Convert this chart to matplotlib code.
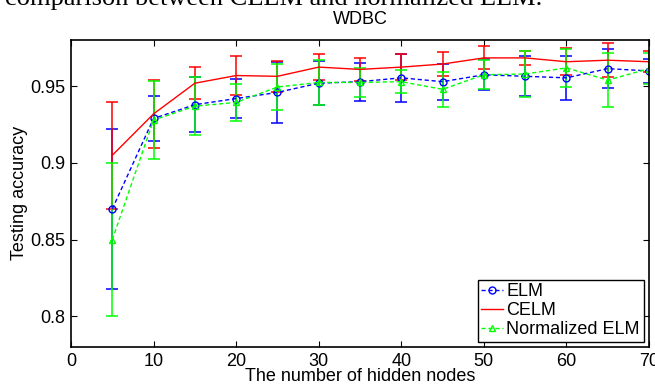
import matplotlib
matplotlib.use("Agg")
import matplotlib.pyplot as plt

plt.rcParams['font.family'] = ['Liberation Sans', 'DejaVu Sans']

nodes = [5, 10, 15, 20, 25, 30, 35, 40, 45, 50, 55, 60, 65, 70]

elm_mean = [0.870, 0.929, 0.938, 0.942, 0.946, 0.952, 0.953, 0.9555, 0.953, 0.9575, 0.9565, 0.9555, 0.9615, 0.960]
elm_err = [0.052, 0.0145, 0.018, 0.0125, 0.020, 0.0145, 0.0125, 0.0155, 0.0117, 0.010, 0.013, 0.0145, 0.0128, 0.008]

celm_mean = [0.905, 0.932, 0.952, 0.957, 0.9565, 0.9625, 0.961, 0.9625, 0.9645, 0.9685, 0.9685, 0.966, 0.967, 0.966]
celm_err = [0.035, 0.022, 0.0103, 0.013, 0.0103, 0.0085, 0.0075, 0.0085, 0.008, 0.0075, 0.0045, 0.0087, 0.011, 0.007]

norm_mean = [0.850, 0.928, 0.937, 0.9395, 0.9495, 0.9525, 0.9525, 0.953, 0.948, 0.9575, 0.958, 0.962, 0.954, 0.9615]
norm_err = [0.050, 0.0257, 0.019, 0.012, 0.015, 0.0145, 0.0095, 0.0073, 0.0115, 0.0095, 0.015, 0.0125, 0.0175, 0.010]

xticks = [0, 10, 20, 30, 40, 50, 60, 70]
yticks = [0.8, 0.85, 0.9, 0.95]
ytick_labels = ['0.8', '0.85', '0.9', '0.95']

fig = plt.figure(figsize=(6.55, 3.9), dpi=100)
ax = fig.add_axes([71/655, 43/390, 578/655, 307.5/390])

fs = 13
ax.errorbar(nodes, elm_mean, yerr=elm_err, color=(0, 0, 1), ls='--', lw=1.0,
            marker='o', mfc='none', mec=(0, 0, 1), ms=5, capsize=4.3, elinewidth=1.1,
            capthick=1.1, label='ELM', dashes=(3, 2))
ax.errorbar(nodes, celm_mean, yerr=celm_err, color=(1, 0, 0), ls='-', lw=1.0,
            capsize=4.3, elinewidth=1.1, capthick=1.1, label='CELM')
ax.errorbar(nodes, norm_mean, yerr=norm_err, color=(0, 1, 0), ls='--', lw=1.0,
            marker='^', mfc='none', mec=(0, 1, 0), ms=5, capsize=4.3, elinewidth=1.1,
            capthick=1.1, label='Normalized ELM', dashes=(3, 2))

ax.set_xlim(0, 70)
ax.set_ylim(0.78, 0.9805)
ax.set_xticks(xticks)
ax.set_yticks(yticks)
ax.set_yticklabels(ytick_labels)
ax.tick_params(direction='in', length=4.5, width=0.8, top=True, right=True,
               labelsize=fs, pad=4)
for s in ax.spines.values():
    s.set_linewidth(1.2)

ax.set_title('WDBC', fontsize=fs, pad=11)
ax.set_xlabel('The number of hidden nodes', fontsize=fs, labelpad=-1)
ax.set_ylabel('Testing accuracy', fontsize=fs, labelpad=2)

handles, labels = ax.get_legend_handles_labels()
handles = [h[0] for h in handles]
leg = ax.legend(handles, labels, loc='lower right', fontsize=fs, frameon=True,
                fancybox=False, edgecolor='black', framealpha=1,
                handlelength=1.2, handletextpad=0.2, labelspacing=0.1,
                borderpad=0.2, borderaxespad=0.3)
leg.get_frame().set_linewidth(1.0)

fig.text(0.008, 1 - 5/390, 'comparison between CELM and normalized ELM.',
         family=['Liberation Serif', 'DejaVu Serif'], fontsize=19, va='baseline', ha='left')

fig.savefig('out.png', dpi=100)
